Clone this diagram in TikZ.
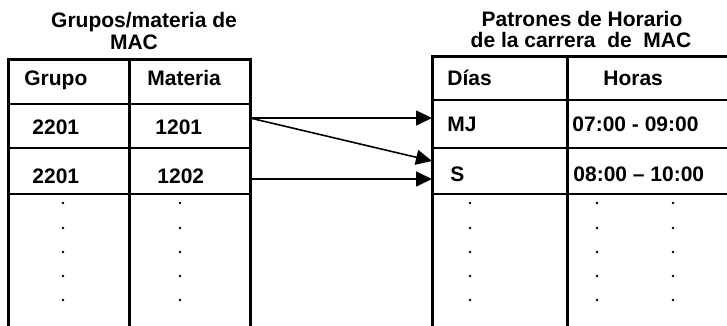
\documentclass[tikz,border=0pt]{standalone}
\usepackage{fontspec}
\setmainfont{Liberation Sans}
\usetikzlibrary{arrows.meta}
\tikzstyle{cell}=[anchor=base west, inner sep=0pt, font=\fontsize{10.5}{12}\selectfont\bfseries]
\tikzstyle{heading}=[anchor=base, inner sep=0pt, font=\fontsize{10.5}{12}\selectfont\bfseries]
\tikzstyle{frame}=[line width=1.5pt]
\tikzstyle{rule}=[line width=1.1pt]
\tikzstyle{link}=[line width=0.8pt, -{Triangle[length=8pt, width=7.5pt]}]

\begin{document}
\begin{tikzpicture}[x=0.5pt, y=-0.5pt]
                    \useasboundingbox (0,0) rectangle (727,326);
                    \node[heading] (gt1) at (144,28) {Grupos/materia de};
                    \node[heading] (gt2) at (134,50) {MAC};
                    \node[heading] (pt1) at (582,27) {Patrones de Horario};
                    \node[heading] (pt2) at (581,48) {de la carrera\ \ de\ \ MAC};
                    \node[cell] (g0) at (24,86) {Grupo};
                    \node[cell] (m0) at (147,86) {Materia};
                    \node[cell] (g1) at (32,134) {2201};
                    \node[cell] (m1) at (155,134) {1201};
                    \node[cell] (g2) at (32,183) {2201};
                    \node[cell] (m2) at (157,183) {1202};
                    \node[cell] (d0) at (447,86) {Días};
                    \node[cell] (h0) at (603,86) {Horas};
                    \node[cell] (d1) at (447,132) {MJ};
                    \node[cell] (h1) at (572,132) {07:00 - 09:00};
                    \node[cell] (d2) at (450,181) {S};
                    \node[cell] (h2) at (573,181) {08:00 – 10:00};
                    \draw[frame] (8,326) -- (8,60) -- (250,60) -- (250,326);
                    \draw[frame] (129,60) -- (129,326);
                    \draw[rule]
                        (8,104)--(250,104) (8,148)--(250,148) (8,194)--(250,194)
                    ;
                    \draw[frame] (432,326) -- (432,57) -- (727,57);
                    \draw[frame] (567,57) -- (567,326);
                    \draw[rule]
                        (432,100)--(727,100) (432,148)--(727,148) (432,194)--(727,194)
                    ;
                    \coordinate (o1) at (250,118);
                    \coordinate (o2) at (250,179);
                    \coordinate (i1) at (432,118);
                    \coordinate (i2) at (432,161);
                    \coordinate (i3) at (432,179);
                    \draw[link] (o1) -- (i1);
                    \draw[link] (o1) -- (i2);
                    \draw[link] (o2) -- (i3);
                    \foreach \x in {63,180,470,597,673}
                        \foreach \y in {203,228,252,276,300}
                            \fill (\x,\y) circle[radius=1.4];
                \end{tikzpicture}
\end{document}
